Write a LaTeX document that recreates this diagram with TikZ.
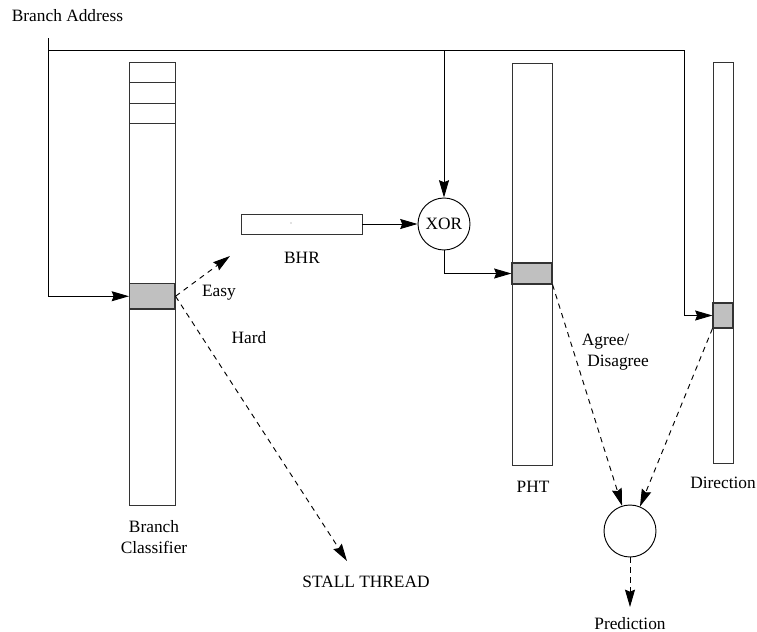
\documentclass[tikz,border=0pt]{standalone}
\usepackage{fontspec}
\setmainfont{Liberation Serif}
\usetikzlibrary{arrows.meta, positioning, calc}
\definecolor{CellGray}{HTML}{C0C0C0}
\definecolor{EdgeGray}{HTML}{333333}

\begin{document}
\begin{tikzpicture}[x=0.75pt, y=-0.75pt,
    font=\fontsize{13}{16}\selectfont,
    line width=0.7pt,
    cell/.style={draw=EdgeGray, fill=CellGray, inner sep=0pt, line width=0.8pt},
    ring/.style={draw, circle, inner sep=0pt, minimum size=39pt},
    tip/.style={-{Stealth[length=13pt, width=7.5pt, inset=1.5pt]}},
    guess/.style={tip, dash pattern=on 4pt off 3.5pt}]
    \useasboundingbox (0,0) rectangle (757,632);

    % Branch classifier table
    \draw[draw=EdgeGray] (129.5,62) rectangle (175,505);
    \foreach \y in {82,103,123}
        \draw[draw=EdgeGray] (129.5,\y) -- (175,\y);
    \node[cell, minimum width=34.1pt, minimum height=19.1pt] (clscell) at (152.25,296.25) {};
    \node[align=center] (clslbl) at (154,537) {Branch\\Classifier};

    % BHR register
    \node[draw=EdgeGray, minimum width=90.75pt, minimum height=15pt, inner sep=0pt] (bhr) at (301.5,224) {};
    \fill[gray] (291,223) circle (0.4pt);
    \node (bhrlbl) at (302,258) {BHR};

    % XOR
    \node[ring] (xor) at (444,224) {XOR};

    % PHT
    \draw[draw=EdgeGray] (512,63) rectangle (552,465);
    \node[cell, minimum width=30pt, minimum height=15.75pt] (phtcell) at (532,273.5) {};
    \node (phtlbl) at (533,487) {PHT};

    % Direction table
    \draw[draw=EdgeGray] (713,62) rectangle (733,463);
    \node[cell, minimum width=15pt, minimum height=18.75pt] (dircell) at (723,315.5) {};
    \node (dirlbl) at (723,483) {Direction};

    % Final prediction
    \node[ring] (res) at (630,531) {};
    \coordinate (predtip) at (630,607);
    \node (predlbl) at (630,624) {Prediction};

    % Branch address bus
    \node[anchor=west] (addrlbl) at (7,16) {Branch Address};
    \coordinate (addr) at (48.5,38);
    \coordinate (bus) at (48.5,50);
    \coordinate (tap) at (444,50);
    \coordinate (turn) at (684,50);
    \draw[tip] (addr) |- (clscell.west);
    \draw (bus) -- (turn);
    \draw[tip] (turn) |- (dircell.west);
    \draw[tip] (tap) -- (xor.north);
    \draw[tip] (bhr.east) -- (xor.west);
    \draw[tip] (xor.south) |- (phtcell.west);

    % Classifier outcomes
    \coordinate (easytip) at (230,256);
    \coordinate (stalltip) at (347,561);
    \draw[guess] (clscell.east) -- (easytip);
    \draw[guess] (clscell.east) -- (stalltip);
    \node (easylbl) at (219,293) {Easy};
    \node (hardlbl) at (249,338) {Hard};
    \node (stalllbl) at (366,582) {STALL THREAD};

    % Prediction inputs
    \draw[guess] (phtcell.south east) -- (res);
    \draw[guess] (dircell.south west) -- (res);
    \draw[guess] (res.south) -- (predtip);
    \node[align=left, anchor=west] (agreelbl) at (577,352) {Agree/\\\hspace*{4pt}Disagree};
\end{tikzpicture}
\end{document}
